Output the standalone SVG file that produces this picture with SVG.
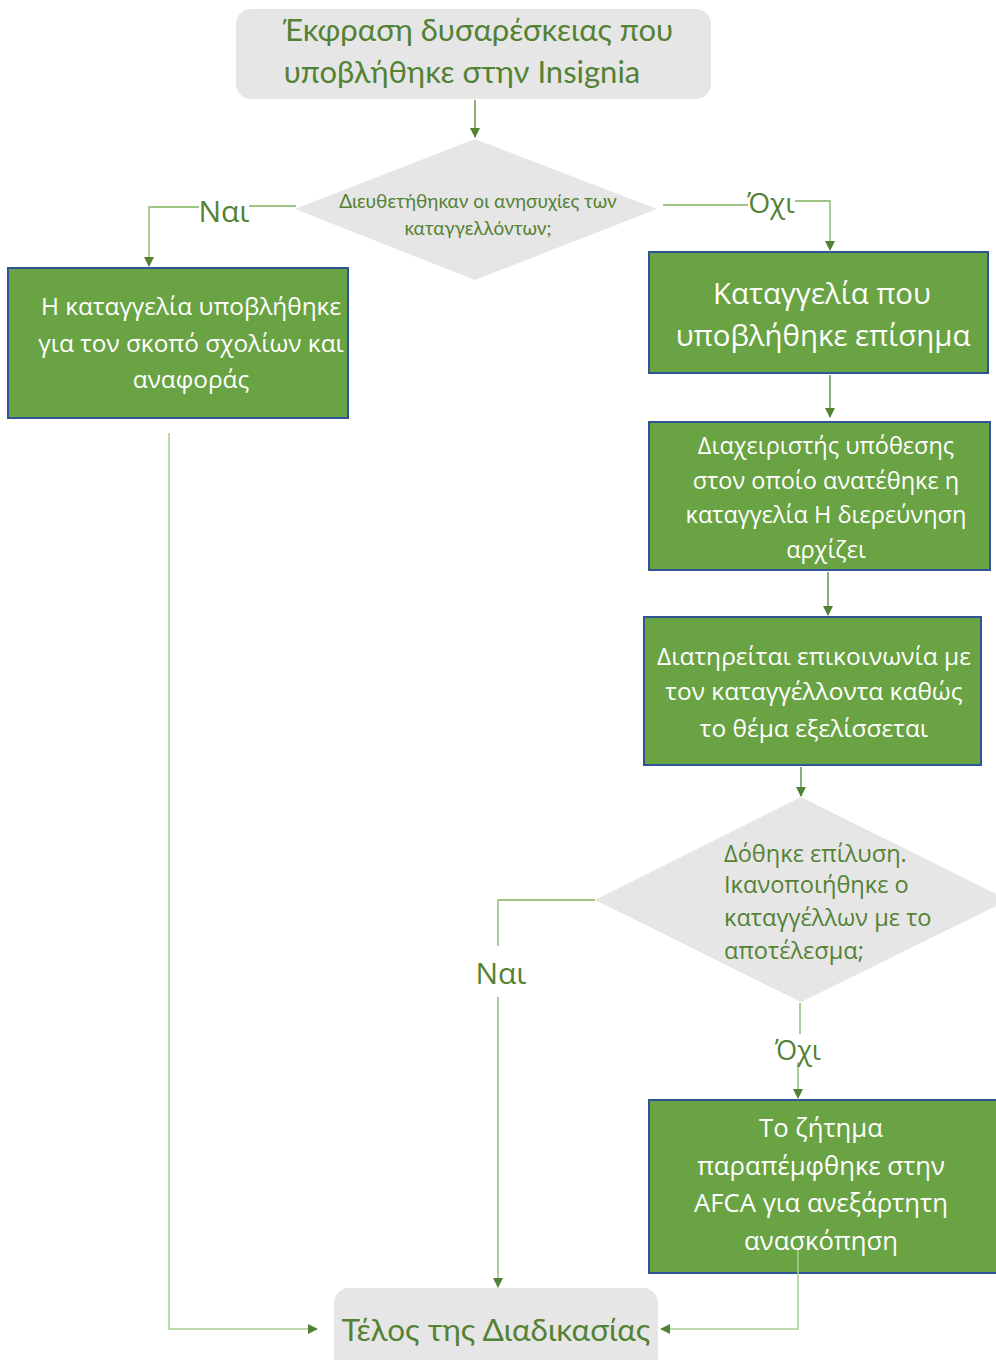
<svg xmlns="http://www.w3.org/2000/svg" width="996" height="1360" viewBox="0 0 996 1360">
<defs>
<style>
.term{fill:#e7e6e6}
.proc{fill:#6aa343;stroke:#2f5597;stroke-width:2}
.dec{fill:#e7e6e6}
.tg{fill:#548235;font-family:Lato,"Liberation Sans",sans-serif}
.tw{fill:#ffffff;font-family:"Open Sans","Noto Sans",sans-serif}
.tgs{fill:#548235;font-family:"Open Sans","Noto Sans",sans-serif}
.ln{fill:none;stroke:#548235;stroke-width:1.3}
.lt{fill:none;stroke:#a9d18e;stroke-width:1.5}
.md{fill:none;stroke:#7fb25e;stroke-width:1.3}
</style>
<marker id="ah" viewBox="0 0 10 10" refX="9" refY="5" markerWidth="10" markerHeight="10" markerUnits="userSpaceOnUse" orient="auto">
<path d="M0,0 L10,5 L0,10 z" fill="#548235"/>
</marker>
</defs>

<g id="start">
<rect class="term" x="236" y="9" width="475" height="90" rx="15"/>
<text class="tg" x="478" y="41" font-size="31" text-anchor="middle">Έκφραση δυσαρέσκειας που</text>
<text class="tg" x="462" y="83" font-size="31" text-anchor="middle">υποβλήθηκε στην Insignia</text>
</g>

<g id="decision1">
<polygon class="dec" points="475,139 657,209 475,280 295,209"/>
<text class="tg" x="478" y="208" font-size="19" text-anchor="middle">Διευθετήθηκαν οι ανησυχίες των</text>
<text class="tg" x="478" y="235" font-size="19" text-anchor="middle">καταγγελλόντων;</text>
</g>

<g id="informal">
<rect class="proc" x="8" y="268" width="340" height="150"/>
<text class="tw" x="191" y="315" font-size="24.4" text-anchor="middle">Η καταγγελία υποβλήθηκε</text>
<text class="tw" x="191" y="352" font-size="24.4" text-anchor="middle">για τον σκοπό σχολίων και</text>
<text class="tw" x="191" y="388" font-size="24.4" text-anchor="middle">αναφοράς</text>
</g>

<g id="formal">
<rect class="proc" x="649" y="252" width="339" height="121"/>
<text class="tw" x="822" y="304" font-size="29.4" text-anchor="middle">Καταγγελία που</text>
<text class="tw" x="823" y="346" font-size="29.4" text-anchor="middle">υποβλήθηκε επίσημα</text>
</g>

<g id="assigned">
<rect class="proc" x="649" y="422" width="341" height="148"/>
<text class="tw" x="826" y="454" font-size="23.5" text-anchor="middle">Διαχειριστής υπόθεσης</text>
<text class="tw" x="826" y="489" font-size="23.5" text-anchor="middle">στον οποίο ανατέθηκε η</text>
<text class="tw" x="826" y="523" font-size="23.5" text-anchor="middle">καταγγελία Η διερεύνηση</text>
<text class="tw" x="826" y="558" font-size="23.5" text-anchor="middle">αρχίζει</text>
</g>

<g id="contact">
<rect class="proc" x="644" y="617" width="337" height="148"/>
<text class="tw" x="814" y="665" font-size="24.5" text-anchor="middle">Διατηρείται επικοινωνία με</text>
<text class="tw" x="814" y="700" font-size="24.5" text-anchor="middle">τον καταγγέλλοντα καθώς</text>
<text class="tw" x="814" y="737" font-size="24.5" text-anchor="middle">το θέμα εξελίσσεται</text>
</g>

<g id="decision2">
<polygon class="dec" points="801,797 1008,900 801,1002 595,900"/>
<text class="tgs" x="724" y="862" font-size="23.6">Δόθηκε επίλυση.</text>
<text class="tgs" x="724" y="893" font-size="23.6">Ικανοποιήθηκε ο</text>
<text class="tgs" x="724" y="926" font-size="23.6">καταγγέλλων με το</text>
<text class="tgs" x="724" y="959" font-size="23.6">αποτέλεσμα;</text>
</g>

<g id="afca">
<rect class="proc" x="649" y="1100" width="355" height="173"/>
<text class="tw" x="821" y="1137" font-size="25.7" text-anchor="middle">Το ζήτημα</text>
<text class="tw" x="821" y="1175" font-size="25.7" text-anchor="middle">παραπέμφθηκε στην</text>
<text class="tw" x="821" y="1212" font-size="25.7" text-anchor="middle">AFCA για ανεξάρτητη</text>
<text class="tw" x="821" y="1250" font-size="25.7" text-anchor="middle">ανασκόπηση</text>
</g>

<g id="end">
<rect class="term" x="334" y="1288" width="324" height="90" rx="15"/>
<text class="tg" x="496" y="1341" font-size="31.5" text-anchor="middle">Τέλος της Διαδικασίας</text>
</g>

<g id="connectors">
<path class="ln" d="M475,100 V137" marker-end="url(#ah)"/>
<path class="md" d="M296,206 H249 M199,207 H149 V266" marker-end="url(#ah)"/>
<path class="md" d="M663,205 H748 M795,201 H830 V250" marker-end="url(#ah)"/>
<path class="ln" d="M830,375 V417" marker-end="url(#ah)"/>
<path class="ln" d="M828,572 V615" marker-end="url(#ah)"/>
<path class="ln" d="M801,767 V796" marker-end="url(#ah)"/>
<path class="md" d="M595,900 H498 V946"/>
<path class="md" d="M498,997 V1287" marker-end="url(#ah)"/>
<path class="md" d="M800,1003 V1034"/>
<path class="md" d="M798,1062 V1098" marker-end="url(#ah)"/>
<path class="lt" d="M169,433 V1329 H317" marker-end="url(#ah)"/>
<path class="lt" d="M798,1250 V1329 H661" marker-end="url(#ah)"/>
<text class="tgs" x="224" y="222" font-size="30" text-anchor="middle">Ναι</text>
<text class="tgs" x="771" y="213" font-size="28" text-anchor="middle">Όχι</text>
<text class="tgs" x="501" y="984" font-size="30" text-anchor="middle">Ναι</text>
<text class="tgs" x="798" y="1060" font-size="27" text-anchor="middle">Όχι</text>
</g>
</svg>
